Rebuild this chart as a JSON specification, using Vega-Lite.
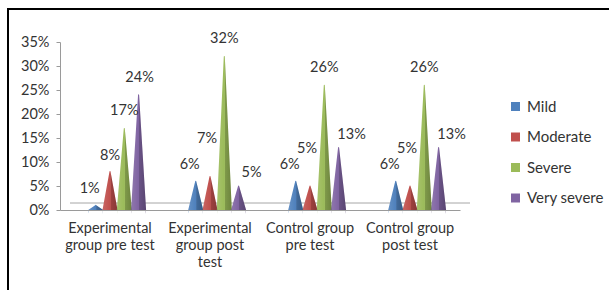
{
  "$schema": "https://vega.github.io/schema/vega-lite/v6.json",
  "width": 602,
  "height": 300,
  "autosize": {"type": "none"},
  "padding": {"left": 8, "top": 9, "right": 0, "bottom": 0},
  "background": "white",
  "config": {
    "view": {"stroke": "#000000", "strokeWidth": 2},
    "font": "Lato",
    "text": {"font": "Lato"},
    "scale": {
      "bandWithNestedOffsetPaddingInner": 0,
      "bandWithNestedOffsetPaddingOuter": 0,
      "offsetBandPaddingInner": 0,
      "offsetBandPaddingOuter": 1.07
    }
  },
  "data": {
    "values": [
      {"group": "Experimental group pre test", "series": "Mild", "value": 0.01},
      {"group": "Experimental group pre test", "series": "Moderate", "value": 0.08},
      {"group": "Experimental group pre test", "series": "Severe", "value": 0.17},
      {"group": "Experimental group pre test", "series": "Very severe", "value": 0.24},
      {"group": "Experimental group post test", "series": "Mild", "value": 0.06},
      {"group": "Experimental group post test", "series": "Moderate", "value": 0.07},
      {"group": "Experimental group post test", "series": "Severe", "value": 0.32},
      {"group": "Experimental group post test", "series": "Very severe", "value": 0.05},
      {"group": "Control group pre test", "series": "Mild", "value": 0.06},
      {"group": "Control group pre test", "series": "Moderate", "value": 0.05},
      {"group": "Control group pre test", "series": "Severe", "value": 0.26},
      {"group": "Control group pre test", "series": "Very severe", "value": 0.13},
      {"group": "Control group post test", "series": "Mild", "value": 0.06},
      {"group": "Control group post test", "series": "Moderate", "value": 0.05},
      {"group": "Control group post test", "series": "Severe", "value": 0.26},
      {"group": "Control group post test", "series": "Very severe", "value": 0.13}
    ]
  },
  "resolve": {"axis": {"x": "independent"}},
  "layer": [
    {
      "mark": {"type": "rect", "fill": "white"},
      "encoding": {
        "x": {
          "field": "group", "type": "nominal",
          "sort": ["Experimental group pre test", "Experimental group post test", "Control group pre test", "Control group post test"],
          "scale": {"range": [52, 452], "paddingInner": 0, "paddingOuter": 0},
          "axis": {"orient": "bottom", "offset": -116, "translate": 10, "labels": false, "ticks": false, "title": null, "domainColor": "#a6a6a6", "zindex": 0}
        },
        "xOffset": {"field": "series", "type": "nominal", "scale": {"domain": ["_", "Mild", "Moderate", "Severe", "Very severe"]}},
        "y": {"datum": 0, "type": "quantitative", "scale": {"domain": [0, 0.35], "range": [201, 33], "nice": false, "zero": false}},
        "y2": {"datum": -0.03}
      }
    },
    {
      "transform": [
        {"stack": "value", "groupby": ["group", "series"], "as": ["y0", "y1"]},
        {"fold": ["y0", "y1"], "as": ["end", "yv"]}
      ],
      "mark": {"type": "trail"},
      "encoding": {
        "x": {
          "field": "group", "type": "nominal",
          "sort": ["Experimental group pre test", "Experimental group post test", "Control group pre test", "Control group post test"],
          "scale": {"range": [52, 452], "paddingInner": 0, "paddingOuter": 0},
          "axis": {
            "orient": "bottom",
            "offset": -99,
            "title": null,
            "ticks": false,
            "labelAngle": 0,
            "labelPadding": 11,
            "labelFont": "Lato",
            "labelFontSize": 14.5,
            "labelColor": "#333333",
            "labelLineHeight": 17,
            "domainColor": "#9a9a9a",
            "zindex": 1,
            "labelExpr": "datum.value == 'Experimental group pre test' ? ['Experimental', 'group pre test'] : datum.value == 'Experimental group post test' ? ['Experimental', 'group post', 'test'] : datum.value == 'Control group pre test' ? ['Control group', 'pre test'] : ['Control group', 'post test']"
          }
        },
        "xOffset": {"field": "series", "type": "nominal", "scale": {"domain": ["_", "Mild", "Moderate", "Severe", "Very severe"]}},
        "y": {
          "field": "yv",
          "type": "quantitative",
          "scale": {"domain": [0, 0.35], "range": [201, 33], "nice": false, "zero": false},
          "axis": {
            "orient": "left",
            "offset": -52,
            "title": null,
            "values": [0, 0.05, 0.1, 0.15, 0.2, 0.25, 0.3, 0.35],
            "format": ".0%",
            "grid": false,
            "labelFont": "Lato",
            "labelFontSize": 14.5,
            "labelColor": "#333333",
            "labelPadding": 7,
            "tickSize": 4,
            "tickColor": "#9a9a9a",
            "domainColor": "#9a9a9a",
            "zindex": 1
          }
        },
        "size": {"field": "end", "type": "ordinal", "scale": {"domain": ["y0", "y1"], "range": [15, 0]}, "legend": null},
        "detail": {"field": "group", "type": "nominal"},
        "order": {"field": "yv", "type": "quantitative"},
        "color": {
          "field": "series",
          "type": "nominal",
          "scale": {"domain": ["Mild", "Moderate", "Severe", "Very severe"], "range": ["#4F81BD", "#C0504D", "#9BBB59", "#8064A2"]},
          "legend": {
            "orient": "none",
            "legendX": 500,
            "legendY": 90,
            "title": null,
            "symbolType": "square",
            "symbolSize": 81,
            "labelFont": "Lato",
            "labelFontSize": 15,
            "labelColor": "#333333",
            "labelOffset": 4,
            "rowPadding": 14.5,
            "encode": {"symbols": {"update": {"fill": {"scale": "color", "field": "value"}, "stroke": {"value": "transparent"}, "strokeWidth": {"value": 0}}}}
          }
        }
      }
    },
    {
      "transform": [
        {"stack": "value", "groupby": ["group", "series"], "as": ["y0", "y1"]},
        {"fold": ["y0", "y1"], "as": ["end", "yv"]}
      ],
      "mark": {
        "type": "trail",
        "fill": {
          "gradient": "linear", "x1": 0, "x2": 1, "y1": 0, "y2": 0,
          "stops": [
            {"offset": 0, "color": "rgba(255,255,255,0.12)"},
            {"offset": 0.5, "color": "rgba(255,255,255,0)"},
            {"offset": 0.56, "color": "rgba(0,0,0,0.18)"},
            {"offset": 1, "color": "rgba(0,0,0,0.3)"}
          ]
        }
      },
      "encoding": {
        "x": {"field": "group", "type": "nominal", "sort": ["Experimental group pre test", "Experimental group post test", "Control group pre test", "Control group post test"], "axis": null},
        "xOffset": {"field": "series", "type": "nominal", "scale": {"domain": ["_", "Mild", "Moderate", "Severe", "Very severe"]}},
        "y": {"field": "yv", "type": "quantitative", "scale": {"domain": [0, 0.35], "range": [201, 33], "nice": false, "zero": false}},
        "size": {"field": "end", "type": "ordinal", "scale": {"domain": ["y0", "y1"], "range": [15, 0]}, "legend": null},
        "detail": [{"field": "group", "type": "nominal"}, {"field": "series", "type": "nominal"}],
        "order": {"field": "yv", "type": "quantitative"}
      }
    },
    {
      "mark": {"type": "rect", "fill": "white"},
      "encoding": {
        "x": {"field": "group", "type": "nominal", "sort": ["Experimental group pre test", "Experimental group post test", "Control group pre test", "Control group post test"], "axis": null},
        "xOffset": {"field": "series", "type": "nominal", "scale": {"domain": ["_", "Mild", "Moderate", "Severe", "Very severe"]}},
        "y": {"datum": 0, "type": "quantitative", "scale": {"domain": [0, 0.35], "range": [201, 33], "nice": false, "zero": false}},
        "y2": {"datum": -0.03}
      }
    },
    {
      "transform": [{"filter": "datum.series == 'Mild'"}],
      "mark": {"type": "text", "baseline": "alphabetic", "dx": -6, "dy": -12, "fontSize": 14.5, "color": "#333333", "font": "Lato"},
      "encoding": {
        "x": {"field": "group", "type": "nominal", "sort": ["Experimental group pre test", "Experimental group post test", "Control group pre test", "Control group post test"], "axis": null},
        "xOffset": {"field": "series", "type": "nominal", "scale": {"domain": ["_", "Mild", "Moderate", "Severe", "Very severe"]}},
        "y": {"field": "value", "type": "quantitative", "scale": {"domain": [0, 0.35], "range": [201, 33], "nice": false, "zero": false}},
        "text": {"field": "value", "type": "quantitative", "format": ".0%"}
      }
    },
    {
      "transform": [{"filter": "datum.series == 'Moderate' && datum.group == 'Experimental group pre test'"}],
      "mark": {"type": "text", "baseline": "alphabetic", "dx": 0, "dy": -12, "fontSize": 14.5, "color": "#333333", "font": "Lato"},
      "encoding": {
        "x": {"field": "group", "type": "nominal", "sort": ["Experimental group pre test", "Experimental group post test", "Control group pre test", "Control group post test"], "axis": null},
        "xOffset": {"field": "series", "type": "nominal", "scale": {"domain": ["_", "Mild", "Moderate", "Severe", "Very severe"]}},
        "y": {"field": "value", "type": "quantitative", "scale": {"domain": [0, 0.35], "range": [201, 33], "nice": false, "zero": false}},
        "text": {"field": "value", "type": "quantitative", "format": ".0%"}
      }
    },
    {
      "transform": [{"filter": "datum.series == 'Moderate' && datum.group != 'Experimental group pre test'"}],
      "mark": {"type": "text", "baseline": "alphabetic", "dx": -3, "dy": -33, "fontSize": 14.5, "color": "#333333", "font": "Lato"},
      "encoding": {
        "x": {"field": "group", "type": "nominal", "sort": ["Experimental group pre test", "Experimental group post test", "Control group pre test", "Control group post test"], "axis": null},
        "xOffset": {"field": "series", "type": "nominal", "scale": {"domain": ["_", "Mild", "Moderate", "Severe", "Very severe"]}},
        "y": {"field": "value", "type": "quantitative", "scale": {"domain": [0, 0.35], "range": [201, 33], "nice": false, "zero": false}},
        "text": {"field": "value", "type": "quantitative", "format": ".0%"}
      }
    },
    {
      "transform": [{"filter": "datum.series == 'Severe'"}],
      "mark": {"type": "text", "baseline": "alphabetic", "dx": 0, "dy": -13, "fontSize": 14.5, "color": "#333333", "font": "Lato"},
      "encoding": {
        "x": {"field": "group", "type": "nominal", "sort": ["Experimental group pre test", "Experimental group post test", "Control group pre test", "Control group post test"], "axis": null},
        "xOffset": {"field": "series", "type": "nominal", "scale": {"domain": ["_", "Mild", "Moderate", "Severe", "Very severe"]}},
        "y": {"field": "value", "type": "quantitative", "scale": {"domain": [0, 0.35], "range": [201, 33], "nice": false, "zero": false}},
        "text": {"field": "value", "type": "quantitative", "format": ".0%"}
      }
    },
    {
      "transform": [{"filter": "datum.series == 'Very severe' && datum.group == 'Experimental group pre test'"}],
      "mark": {"type": "text", "baseline": "alphabetic", "dx": 1, "dy": -13, "fontSize": 14.5, "color": "#333333", "font": "Lato"},
      "encoding": {
        "x": {"field": "group", "type": "nominal", "sort": ["Experimental group pre test", "Experimental group post test", "Control group pre test", "Control group post test"], "axis": null},
        "xOffset": {"field": "series", "type": "nominal", "scale": {"domain": ["_", "Mild", "Moderate", "Severe", "Very severe"]}},
        "y": {"field": "value", "type": "quantitative", "scale": {"domain": [0, 0.35], "range": [201, 33], "nice": false, "zero": false}},
        "text": {"field": "value", "type": "quantitative", "format": ".0%"}
      }
    },
    {
      "transform": [{"filter": "datum.series == 'Very severe' && datum.group != 'Experimental group pre test'"}],
      "mark": {"type": "text", "baseline": "alphabetic", "dx": 13, "dy": -9, "fontSize": 14.5, "color": "#333333", "font": "Lato"},
      "encoding": {
        "x": {"field": "group", "type": "nominal", "sort": ["Experimental group pre test", "Experimental group post test", "Control group pre test", "Control group post test"], "axis": null},
        "xOffset": {"field": "series", "type": "nominal", "scale": {"domain": ["_", "Mild", "Moderate", "Severe", "Very severe"]}},
        "y": {"field": "value", "type": "quantitative", "scale": {"domain": [0, 0.35], "range": [201, 33], "nice": false, "zero": false}},
        "text": {"field": "value", "type": "quantitative", "format": ".0%"}
      }
    }
  ]
}
